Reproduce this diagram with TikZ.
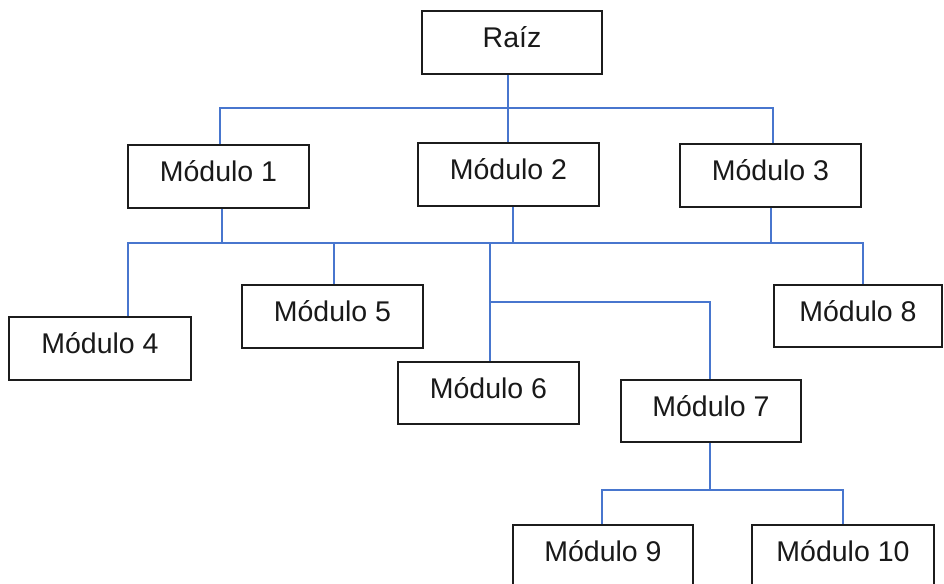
\documentclass[tikz,border=0pt]{standalone}
\usepackage{fontspec}
\setmainfont{Liberation Sans}
\definecolor{linkblue}{RGB}{72,118,206}
\definecolor{boxline}{RGB}{28,28,28}
\tikzset{
  modbox/.style={draw=boxline, line width=1.9pt, fill=white, inner sep=0pt,
    minimum width=181pt, text height=37pt, text depth=26pt,
    font=\fontsize{28.5}{34}\selectfont, text={black!90}},
  conn/.style={draw=linkblue, line width=1.6pt}
}
\begin{document}
\begin{tikzpicture}[x=1pt,y=-1pt]
\useasboundingbox (0,0) rectangle (944,583);
\fill[white] (0,0) rectangle (944,583);
\clip (0,0) rectangle (944,583);
% coordinates of the connector junctions
\coordinate (j0) at (508,108);
\coordinate (b0l) at (220,108);
\coordinate (b0r) at (773,108);
\coordinate (b1l) at (128,243);
\coordinate (b1r) at (863,243);
\coordinate (u1) at (222,243);
\coordinate (u2) at (513,243);
\coordinate (u3) at (771,243);
\coordinate (d5) at (334,243);
\coordinate (d6) at (490,243);
\coordinate (j6) at (490,302);
\coordinate (j7) at (710,302);
\coordinate (k7) at (710,490);
\coordinate (b2l) at (602,490);
\coordinate (b2r) at (843,490);
% nodes
\node[modbox, anchor=north, minimum width=180pt] (raiz) at (512,10) {Raíz};
\node[modbox, anchor=north] (m1) at (218.5,144) {Módulo 1};
\node[modbox, anchor=north] (m2) at (508.5,142) {Módulo 2};
\node[modbox, anchor=north] (m3) at (770.5,143) {Módulo 3};
\node[modbox, anchor=north, minimum width=182pt] (m4) at (100,316) {Módulo 4};
\node[modbox, anchor=north] (m5) at (332.5,284) {Módulo 5};
\node[modbox, anchor=north, text depth=25pt] (m6) at (488.5,361) {Módulo 6};
\node[modbox, anchor=north, minimum width=180pt, text depth=25pt] (m7) at (711,379) {Módulo 7};
\node[modbox, anchor=north, minimum width=168pt, text depth=25pt] (m8) at (858,284) {Módulo 8};
\node[modbox, anchor=north, minimum width=180pt] (m9) at (603,524) {Módulo 9};
\node[modbox, anchor=north, minimum width=182pt] (m10) at (843,524) {Módulo 10};
% level 1
\path[conn] (raiz.south -| j0) -- (m2.north -| j0);
\path[conn] (m1.north -| b0l) -- (b0l) -- (b0r) -- (m3.north -| b0r);
% level 2
\path[conn] (m4.north -| b1l) -- (b1l) -- (b1r) -- (m8.north -| b1r);
\path[conn] (m1.south -| u1) -- (u1);
\path[conn] (m2.south -| u2) -- (u2);
\path[conn] (m3.south -| u3) -- (u3);
\path[conn] (d5) -- (m5.north -| d5);
\path[conn] (d6) -- (m6.north -| d6);
\path[conn] (j6) -- (j7) -- (m7.north -| j7);
% level 3
\path[conn] (m7.south -| k7) -- (k7);
\path[conn] (m9.north -| b2l) -- (b2l) -- (b2r) -- (m10.north -| b2r);
\end{tikzpicture}
\end{document}
